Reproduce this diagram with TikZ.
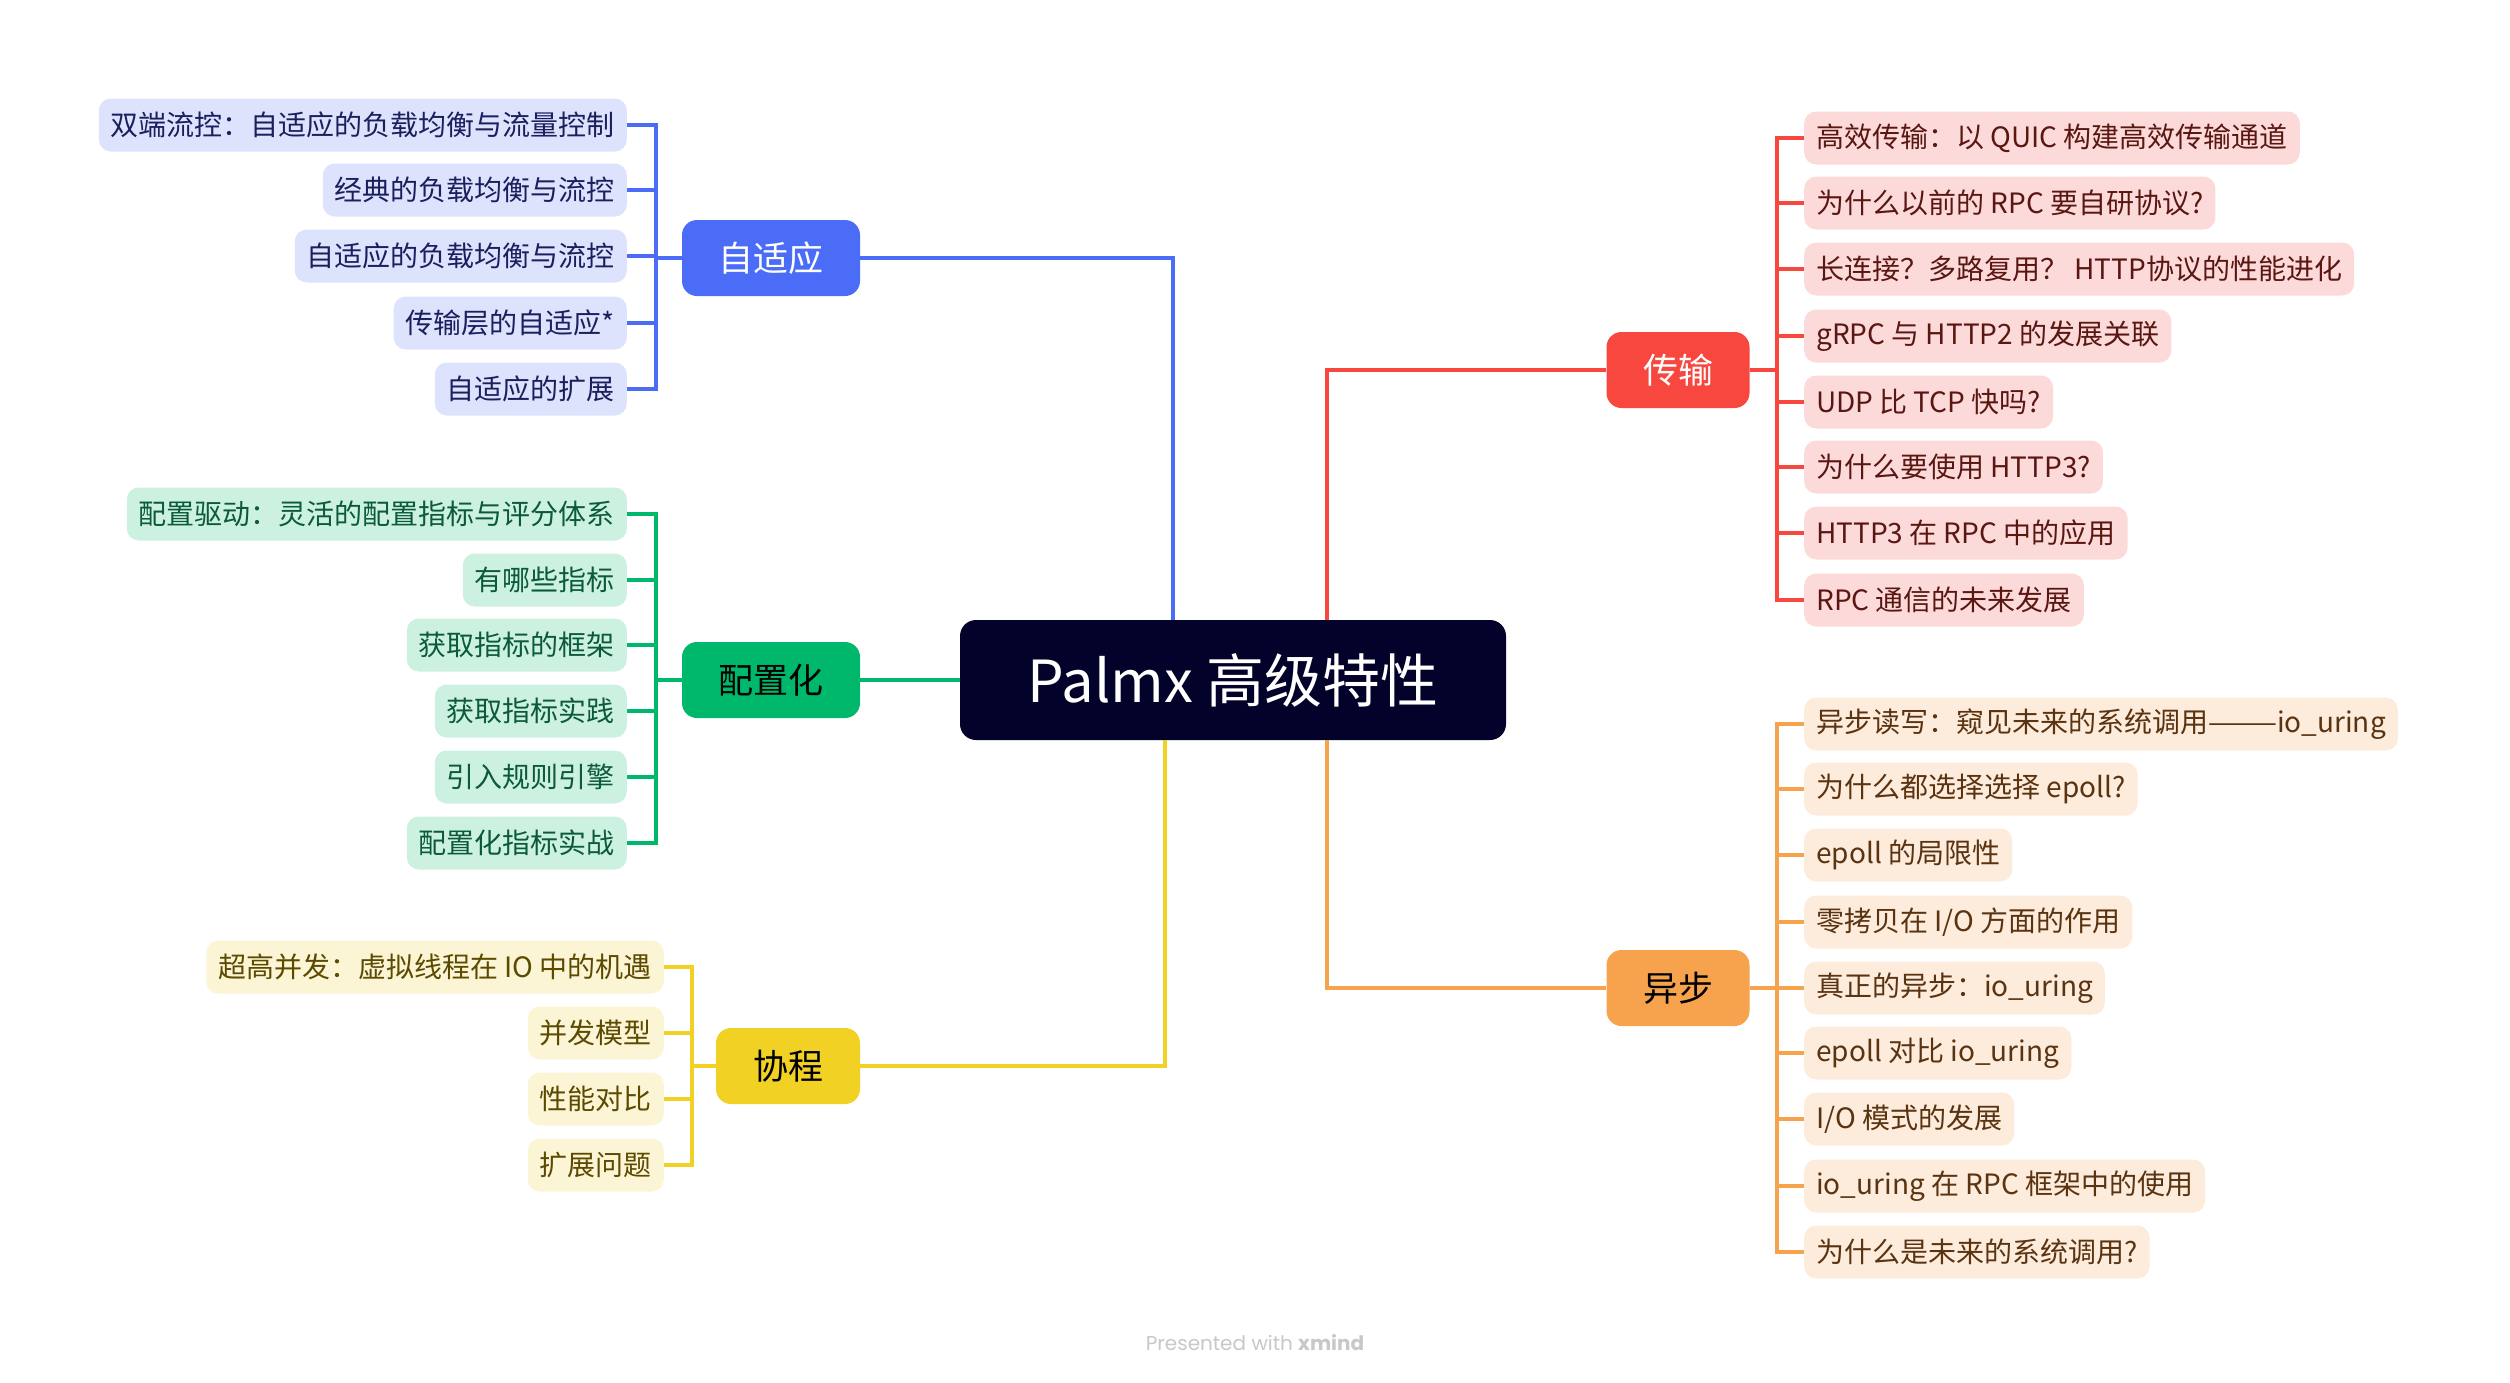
\documentclass[tikz,border=0pt]{standalone}
\usepackage{fontspec}
\setmainfont{Noto Sans CJK SC}
\newfontfamily\wmfont{Poppins}
\definecolor{ctrfill}{HTML}{02022A}
\definecolor{bluem}{HTML}{4A6CF7}
\definecolor{bluel}{HTML}{DDE2FD}
\definecolor{bluet}{HTML}{1A1F5E}
\definecolor{greenm}{HTML}{00B86B}
\definecolor{greenl}{HTML}{CCF1E1}
\definecolor{greent}{HTML}{0B5A38}
\definecolor{yellowm}{HTML}{F2D125}
\definecolor{yellowl}{HTML}{FCF5D5}
\definecolor{yellowt}{HTML}{5C4A00}
\definecolor{redm}{HTML}{F7473F}
\definecolor{redl}{HTML}{FDDADA}
\definecolor{redt}{HTML}{5A1712}
\definecolor{orangem}{HTML}{F7A24D}
\definecolor{orangel}{HTML}{FDEBDC}
\definecolor{oranget}{HTML}{5A3310}
\definecolor{wmgray}{HTML}{C8C8C8}
\tikzset{
  leaf/.style={rounded corners=12pt, minimum height=53pt, inner xsep=12pt, inner ysep=0pt, font=\fontsize{28}{32}\selectfont},
  bleaf/.style={leaf, fill=bluel, text=bluet, anchor=east},
  gleaf/.style={leaf, fill=greenl, text=greent, anchor=east},
  yleaf/.style={leaf, fill=yellowl, text=yellowt, anchor=east},
  rleaf/.style={leaf, fill=redl, text=redt, anchor=west},
  oleaf/.style={leaf, fill=orangel, text=oranget, anchor=west},
  topic/.style={rounded corners=15pt, minimum height=76pt, inner sep=0pt, font=\fontsize{35}{40}\selectfont},
  bl/.style={draw=bluem, line width=4pt},
  gl/.style={draw=greenm, line width=4pt},
  yl/.style={draw=yellowm, line width=4pt},
  rl/.style={draw=redm, line width=4pt},
  ol/.style={draw=orangem, line width=4pt},
}
\begin{document}
\begin{tikzpicture}[x=1pt,y=-1pt]
\useasboundingbox[fill=white] (0,0) rectangle (2510,1382);

% central
\node[fill=ctrfill, text=white, rounded corners=16pt, minimum width=546pt, minimum height=120pt, inner sep=0pt, font=\fontsize{58}{64}\selectfont] (ctr) at (1233,680) {Palmx 高级特性};

% topics
\node[topic, fill=bluem, text=white, minimum width=178pt] (ada) at (771,258) {自适应};
\node[topic, fill=greenm, text=black, minimum width=178pt] (cfg) at (771,680) {配置化};
\node[topic, fill=yellowm, text=black, minimum width=144pt] (cor) at (788,1066) {协程};
\node[topic, fill=redm, text=white, minimum width=143pt] (tra) at (1678,370) {传输};
\node[topic, fill=orangem, text=black, minimum width=143pt] (asy) at (1678,988) {异步};

% central connectors
\draw[bl] ([xshift=-60pt]ctr.north) |- (ada.east);
\draw[gl] (ctr.west) -- (cfg.east);
\draw[yl] ([xshift=-68pt]ctr.south) |- (cor.east);
\draw[rl] ([xshift=94pt]ctr.north) |- (tra.west);
\draw[ol] ([xshift=94pt]ctr.south) |- (asy.west);

% blue leaves
\node[bleaf] (b1) at (627,125) {双端流控：自适应的负载均衡与流量控制};
\node[bleaf] (b2) at (627,190) {经典的负载均衡与流控};
\node[bleaf] (b3) at (627,256) {自适应的负载均衡与流控};
\node[bleaf] (b4) at (627,323) {传输层的自适应*};
\node[bleaf] (b5) at (627,389) {自适应的扩展};
\foreach \c in {b1,b2,b3,b4,b5} \draw[bl] (ada.west) -- ++(-26,0) |- (\c.east);

% green leaves
\node[gleaf] (g1) at (627,514) {配置驱动：灵活的配置指标与评分体系};
\node[gleaf] (g2) at (627,580) {有哪些指标};
\node[gleaf] (g3) at (627,645) {获取指标的框架};
\node[gleaf] (g4) at (627,711) {获取指标实践};
\node[gleaf] (g5) at (627,777) {引入规则引擎};
\node[gleaf] (g6) at (627,843) {配置化指标实战};
\foreach \c in {g1,g2,g3,g4,g5,g6} \draw[gl] (cfg.west) -- ++(-26,0) |- (\c.east);

% yellow leaves
\node[yleaf] (y1) at (664,967) {超高并发：虚拟线程在 IO 中的机遇};
\node[yleaf] (y2) at (664,1033) {并发模型};
\node[yleaf] (y3) at (664,1099) {性能对比};
\node[yleaf] (y4) at (664,1165) {扩展问题};
\foreach \c in {y1,y2,y3,y4} \draw[yl] (cor.west) -- ++(-24,0) |- (\c.east);

% red leaves
\node[rleaf] (r1) at (1804,138) {高效传输：以 QUIC 构建高效传输通道};
\node[rleaf] (r2) at (1804,203) {为什么以前的 RPC 要自研协议?};
\node[rleaf] (r3) at (1804,269) {长连接？多路复用？ HTTP协议的性能进化};
\node[rleaf] (r4) at (1804,336) {gRPC 与 HTTP2 的发展关联};
\node[rleaf] (r5) at (1804,402) {UDP 比 TCP 快吗?};
\node[rleaf] (r6) at (1804,467) {为什么要使用 HTTP3?};
\node[rleaf] (r7) at (1804,533) {HTTP3 在 RPC 中的应用};
\node[rleaf] (r8) at (1804,600) {RPC 通信的未来发展};
\foreach \c in {r1,r2,r3,r4,r5,r6,r7,r8} \draw[rl] (tra.east) -- ++(27,0) |- (\c.west);

% orange leaves
\node[oleaf] (o1) at (1804,724) {异步读写：窥见未来的系统调用———io\_uring};
\node[oleaf] (o2) at (1804,789) {为什么都选择选择 epoll?};
\node[oleaf] (o3) at (1804,855) {epoll 的局限性};
\node[oleaf] (o4) at (1804,922) {零拷贝在 I/O 方面的作用};
\node[oleaf] (o5) at (1804,988) {真正的异步：io\_uring};
\node[oleaf] (o6) at (1804,1053) {epoll 对比 io\_uring};
\node[oleaf] (o7) at (1804,1119) {I/O 模式的发展};
\node[oleaf] (o8) at (1804,1186) {io\_uring 在 RPC 框架中的使用};
\node[oleaf] (o9) at (1804,1252) {为什么是未来的系统调用?};
\foreach \c in {o1,o2,o3,o4,o5,o6,o7,o8,o9} \draw[ol] (asy.east) -- ++(27,0) |- (\c.west);

% watermark
\node[text=wmgray, font=\wmfont\fontsize{20}{24}\selectfont] (wm) at (1255,1343) {Presented with {\bfseries xmind}};
\end{tikzpicture}
\end{document}
